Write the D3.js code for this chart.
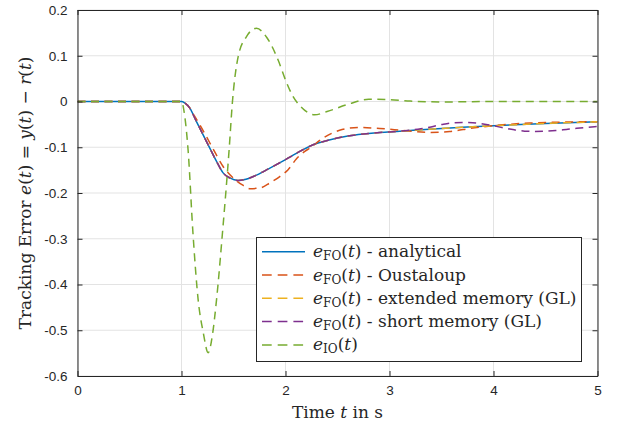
<!DOCTYPE html>
<html><head><meta charset="utf-8">
<script src="https://cdn.jsdelivr.net/npm/d3@7"></script>
<style>body{margin:0;background:#fff}svg{display:block}</style>
</head><body><svg id="c" width="620" height="423"></svg>
<script>
// ---- data ----
const xTicks = [0, 1, 2, 3, 4, 5];
const yTicks = [0.2, 0.1, 0, -0.1, -0.2, -0.3, -0.4, -0.5, -0.6];
const yTickLabels = ["0.2", "0.1", "0", "-0.1", "-0.2", "-0.3", "-0.4", "-0.5", "-0.6"];

const tAnalytical = [0, 1.0, 1.03, 1.08, 1.144, 1.208, 1.272, 1.337, 1.40, 1.464, 1.545, 1.62, 1.69, 1.85, 2.0, 2.1, 2.265, 2.42, 2.587, 2.75, 2.907, 3.1, 3.227, 3.42, 3.7, 4.0, 4.5, 5.0];
const eAnalytical = [0, 0, -0.003, -0.0145, -0.044, -0.073, -0.102, -0.131, -0.156, -0.167, -0.1725, -0.170, -0.164, -0.1455, -0.127, -0.114, -0.0945, -0.084, -0.076, -0.071, -0.0676, -0.065, -0.063, -0.060, -0.0565, -0.053, -0.048, -0.0443];

const tOustaloup = [0, 1.0, 1.03, 1.08, 1.12, 1.176, 1.24, 1.30, 1.40, 1.496, 1.59, 1.657, 1.753, 1.85, 1.945, 2.025, 2.106, 2.186, 2.234, 2.36, 2.52, 2.71, 2.907, 3.16, 3.39, 3.58, 3.8, 4.0, 4.35, 5.0];
const eOustaloup = [0, 0, -0.003, -0.0145, -0.03, -0.051, -0.077, -0.102, -0.142, -0.167, -0.183, -0.1906, -0.189, -0.178, -0.164, -0.149, -0.125, -0.109, -0.102, -0.080, -0.063, -0.0567, -0.059, -0.064, -0.0675, -0.0655, -0.058, -0.053, -0.047, -0.044];

const tExtended = tAnalytical.slice();
const eExtended = [0, 0, -0.003, -0.0145, -0.044, -0.073, -0.102, -0.131, -0.156, -0.167, -0.1725, -0.170, -0.164, -0.1455, -0.127, -0.114, -0.0945, -0.084, -0.076, -0.071, -0.0676, -0.065, -0.063, -0.060, -0.0565, -0.053, -0.048, -0.0443];

const tShort = [0, 1.0, 1.03, 1.08, 1.144, 1.208, 1.272, 1.337, 1.40, 1.464, 1.545, 1.62, 1.69, 1.85, 2.0, 2.1, 2.265, 2.42, 2.587, 2.75, 2.907, 3.1, 3.2, 3.3, 3.4, 3.5, 3.6, 3.7, 3.8, 3.9, 4.0, 4.1, 4.2, 4.3, 4.4, 4.5, 4.6, 4.7, 4.8, 4.9, 5.0];
const eShort = [0, 0, -0.003, -0.0145, -0.044, -0.073, -0.102, -0.131, -0.156, -0.167, -0.1725, -0.170, -0.164, -0.1455, -0.127, -0.114, -0.0945, -0.084, -0.076, -0.071, -0.0676, -0.065, -0.0625, -0.0595, -0.0555, -0.0505, -0.0467, -0.0458, -0.0465, -0.049, -0.053, -0.058, -0.062, -0.0648, -0.0655, -0.065, -0.0635, -0.061, -0.0585, -0.0565, -0.0546];

const tIO = [0, 1.0, 1.03, 1.063, 1.11, 1.16, 1.21, 1.256, 1.30, 1.337, 1.394, 1.458, 1.49, 1.545, 1.625, 1.72, 1.82, 1.93, 2.0, 2.07, 2.15, 2.28, 2.4, 2.59, 2.8, 3.0, 3.2, 3.5, 4.0, 5.0];
const eIO = [0, 0, -0.03, -0.105, -0.287, -0.433, -0.506, -0.549, -0.506, -0.433, -0.287, -0.105, 0, 0.098, 0.142, 0.16, 0.14, 0.09, 0.047, 0.012, -0.012, -0.029, -0.022, -0.007, 0.005, 0.004, 0.001, -0.001, 0, 0];

const seriesNames = ["analytical", "Oustaloup", "extended memory (GL)", "short memory (GL)", "IO"];
const seriesColors = ["#0072BD", "#D95319", "#EDB120", "#7E2F8E", "#77AC30"];

// ---- build ----
const series = [
  {t: tAnalytical, e: eAnalytical, dash: null},
  {t: tOustaloup, e: eOustaloup, dash: "8,5.5"},
  {t: tExtended, e: eExtended, dash: "8,5.5"},
  {t: tShort, e: eShort, dash: "8,5.5"},
  {t: tIO, e: eIO, dash: "8,5.5"}
].map((s, i) => ({...s, name: seriesNames[i], color: seriesColors[i],
  pts: s.t.map((t, j) => [t, s.e[j]])}));

const L = 77.5, R = 597.5, T = 10, B = 376;
const x = d3.scaleLinear().domain([0, 5]).range([L, R]);
const y = d3.scaleLinear().domain([-0.6, 0.2]).range([B, T]);
const svg = d3.select("#c");
const axisColor = "#262626";
const tickFont = "'Liberation Sans', Arial, Helvetica, sans-serif";
const serif = "'DejaVu Serif', serif";

// grid
const grid = svg.append("g");
grid.selectAll("line.gx").data(xTicks).join("line")
  .attr("x1", d => x(d)).attr("x2", d => x(d)).attr("y1", T).attr("y2", B)
  .attr("stroke", "#e3e3e3").attr("stroke-width", 1);
grid.selectAll("line.gy").data(yTicks).join("line")
  .attr("y1", d => y(d)).attr("y2", d => y(d)).attr("x1", L).attr("x2", R)
  .attr("stroke", "#e3e3e3").attr("stroke-width", 1);

// lines
svg.append("clipPath").attr("id", "clp").append("rect")
  .attr("x", L).attr("y", T).attr("width", R - L).attr("height", B - T);
const line = d3.line().x(d => x(d[0])).y(d => y(d[1])).curve(d3.curveMonotoneX);
const lg = svg.append("g").attr("clip-path", "url(#clp)");
series.forEach(s => {
  lg.append("path").attr("d", line(s.pts)).attr("fill", "none")
    .attr("stroke", s.color).attr("stroke-width", 1.5)
    .attr("stroke-dasharray", s.dash);
});

// axes
function styleAxis(g) {
  g.select(".domain").attr("stroke", axisColor).attr("stroke-width", 1);
  g.selectAll(".tick line").attr("stroke", axisColor);
  g.selectAll("text").attr("fill", axisColor).attr("font-family", tickFont).attr("font-size", 13.5);
}
svg.append("g").attr("transform", `translate(0,${B})`)
  .call(d3.axisBottom(x).tickValues(xTicks).tickFormat(d3.format("d")).tickSizeInner(-5).tickSizeOuter(0).tickPadding(9))
  .call(styleAxis);
svg.append("g").attr("transform", `translate(0,${T})`)
  .call(d3.axisTop(x).tickValues(xTicks).tickFormat("").tickSizeInner(-5).tickSizeOuter(0))
  .call(styleAxis);
svg.append("g").attr("transform", `translate(${L},0)`)
  .call(d3.axisLeft(y).tickValues(yTicks).tickFormat((d, i) => yTickLabels[i]).tickSizeInner(-5).tickSizeOuter(0).tickPadding(10))
  .call(styleAxis);
svg.append("g").attr("transform", `translate(${R},0)`)
  .call(d3.axisRight(y).tickValues(yTicks).tickFormat("").tickSizeInner(-5).tickSizeOuter(0))
  .call(styleAxis);

// axis labels
const xl = svg.append("text").attr("x", (L + R) / 2).attr("y", 418).attr("text-anchor", "middle")
  .attr("font-family", serif).attr("font-size", 17).attr("fill", axisColor);
xl.append("tspan").text("Time ");
xl.append("tspan").attr("font-style", "italic").text("t");
xl.append("tspan").text(" in s");

const yl = svg.append("text").attr("transform", `translate(31,${(T + B) / 2}) rotate(-90)`)
  .attr("text-anchor", "middle").attr("font-family", serif).attr("font-size", 17).attr("fill", axisColor);
[["Tracking Error ", 0], ["e", 1], ["(", 0], ["t", 1], [") = ", 0], ["y", 1], ["(", 0], ["t", 1], [") \u2212 ", 0], ["r", 1], ["(", 0], ["t", 1], [")", 0]]
  .forEach(([s, it]) => yl.append("tspan").attr("font-style", it ? "italic" : "normal").text(s));

// legend
const lgx = 256.5, lgy = 237.5, lgw = 325, lgh = 124;
const leg = svg.append("g");
leg.append("rect").attr("x", lgx).attr("y", lgy).attr("width", lgw).attr("height", lgh)
  .attr("fill", "#fff").attr("stroke", axisColor).attr("stroke-width", 1);
series.forEach((s, i) => {
  const cy = 251.7 + i * 23.3;
  leg.append("line").attr("x1", 262).attr("x2", 305).attr("y1", cy).attr("y2", cy)
    .attr("stroke", s.color).attr("stroke-width", 1.5).attr("stroke-dasharray", s.dash ? "9.7,6" : null);
  const tx = leg.append("text").attr("x", 313).attr("y", cy + 5.5)
    .attr("font-family", serif).attr("font-size", 17).attr("fill", axisColor);
  tx.append("tspan").attr("font-style", "italic").text("e");
  tx.append("tspan").attr("font-size", 12).attr("dy", 3).text(i === 4 ? "IO" : "FO");
  tx.append("tspan").attr("dy", -3).text("(");
  tx.append("tspan").attr("font-style", "italic").text("t");
  tx.append("tspan").text(")");
  if (i < 4) tx.append("tspan").text(" - " + s.name);
});
</script></body></html>
